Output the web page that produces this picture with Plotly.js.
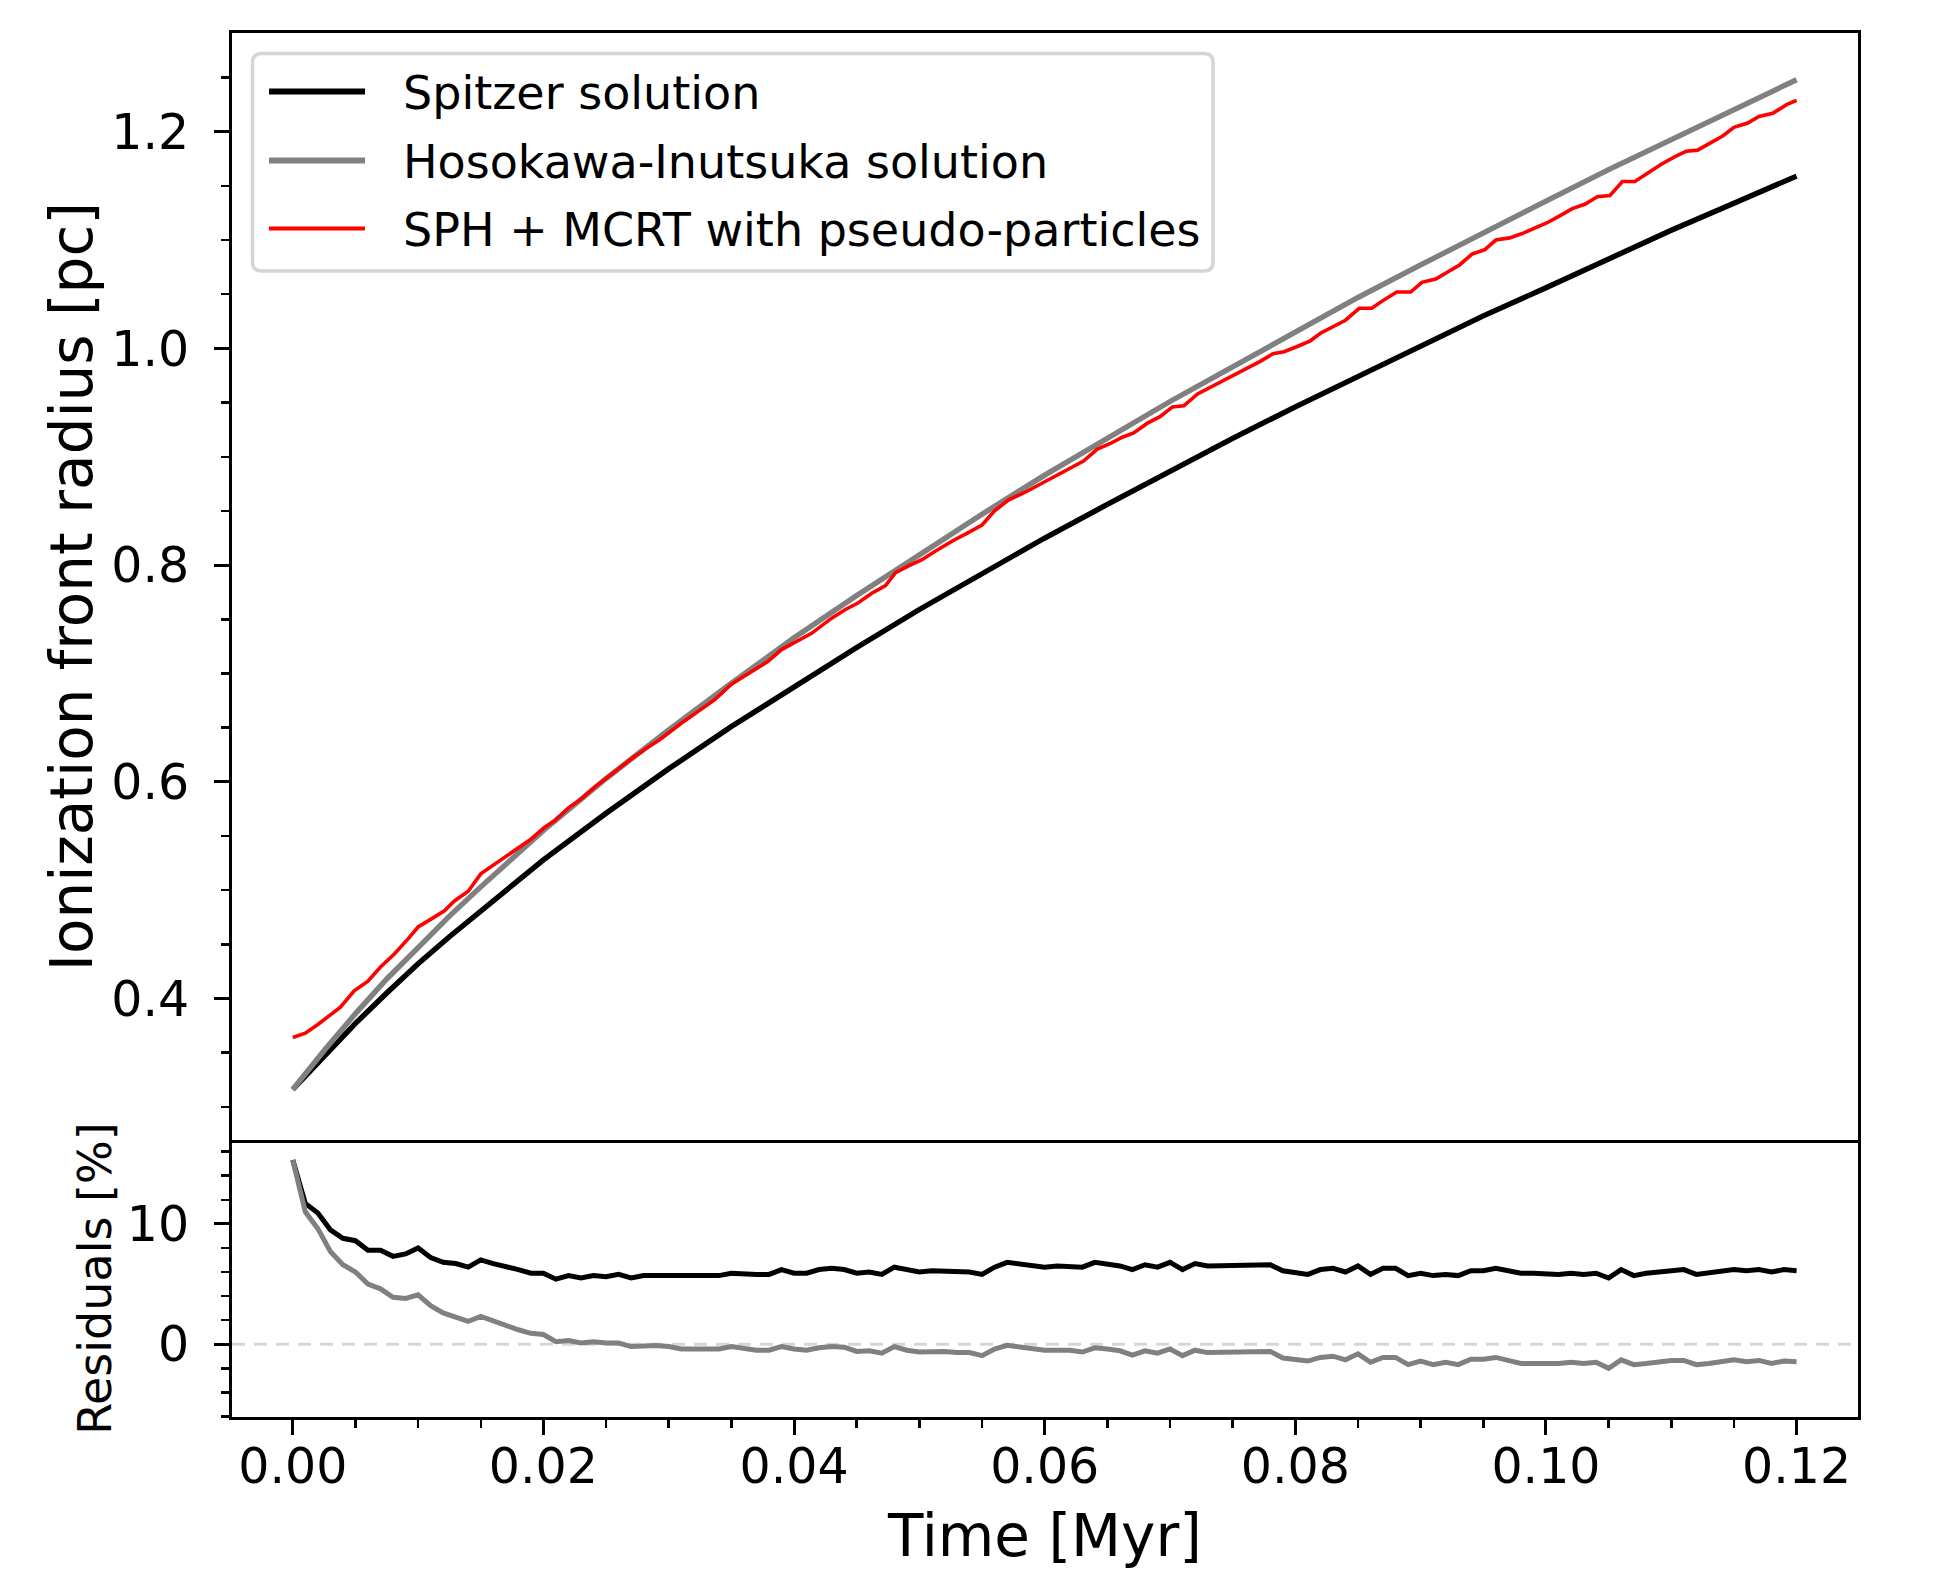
<!DOCTYPE html>
<html>
<head>
<meta charset="utf-8">
<script src="https://cdn.plot.ly/plotly-3.0.1.min.js"></script>
<style>
  html, body { margin: 0; padding: 0; background: #ffffff; }
  #chart { width: 1938px; height: 1583px; }
</style>
</head>
<body>
<div id="chart"></div>
<script>
// ---------- data ----------
// Analytic solutions (time in Myr, radius in pc)
const solT = [0, 0.0025, 0.005, 0.0075, 0.01, 0.0125, 0.015, 0.0175, 0.02, 0.025, 0.03, 0.035, 0.04, 0.045, 0.05, 0.055, 0.06, 0.065, 0.07, 0.075, 0.08, 0.085, 0.09, 0.095, 0.1, 0.105, 0.11, 0.115, 0.12];
const spitzerR = [0.316, 0.347, 0.377, 0.405, 0.432, 0.457, 0.481, 0.505, 0.528, 0.571, 0.612, 0.651, 0.688, 0.724, 0.759, 0.792, 0.825, 0.856, 0.887, 0.917, 0.946, 0.974, 1.002, 1.030, 1.056, 1.083, 1.109, 1.134, 1.159];
const hosokawaR = [0.316, 0.352, 0.386, 0.418, 0.447, 0.476, 0.503, 0.529, 0.555, 0.603, 0.648, 0.691, 0.733, 0.772, 0.810, 0.847, 0.883, 0.917, 0.951, 0.983, 1.015, 1.047, 1.077, 1.107, 1.136, 1.165, 1.193, 1.221, 1.248];

// SPH + MCRT simulation
const simT = [0, 0.0010, 0.0020, 0.0030, 0.0038, 0.0049, 0.0060, 0.0070, 0.0081, 0.0092, 0.0100, 0.0110, 0.0121, 0.0129, 0.0140, 0.0150, 0.0161, 0.0172, 0.0182, 0.0190, 0.0201, 0.0209, 0.0220, 0.0230, 0.0241, 0.0252, 0.0260, 0.0270, 0.0281, 0.0293,
  0.0310, 0.0323, 0.0337, 0.0350, 0.0363, 0.0379, 0.0390, 0.0403, 0.0414, 0.0430, 0.0441, 0.0451, 0.0462, 0.0473, 0.0481, 0.0491, 0.0502, 0.0513, 0.0526, 0.0539, 0.0550, 0.0560, 0.0571, 0.0584,
  0.0604, 0.0618, 0.0631, 0.0642, 0.0652, 0.0662, 0.0671, 0.0682, 0.0692, 0.0702, 0.0711, 0.0722, 0.0732, 0.0743, 0.0754, 0.0764, 0.0772, 0.0782, 0.0791, 0.0802, 0.0812, 0.0820, 0.0831, 0.0840, 0.0851, 0.0861, 0.0871, 0.0881, 0.0892, 0.0901, 0.0912,
  0.0931, 0.0941, 0.0951, 0.0960, 0.0971, 0.0981, 0.0992, 0.1001, 0.1012, 0.1021, 0.1031, 0.1041, 0.1051, 0.1061, 0.1071, 0.1081, 0.1092, 0.1103, 0.1112, 0.1121, 0.1132, 0.1141, 0.1150, 0.1161, 0.1170, 0.1181, 0.1192, 0.1200];
const simR = [0.364, 0.368, 0.376, 0.385, 0.392, 0.407, 0.416, 0.429, 0.441, 0.455, 0.466, 0.473, 0.481, 0.490, 0.499, 0.515, 0.524, 0.533, 0.541, 0.547, 0.558, 0.564, 0.576, 0.584, 0.595, 0.605, 0.612, 0.621, 0.630, 0.639,
  0.654, 0.665, 0.676, 0.690, 0.699, 0.711, 0.722, 0.730, 0.737, 0.751, 0.759, 0.765, 0.774, 0.781, 0.793, 0.799, 0.805, 0.813, 0.822, 0.830, 0.837, 0.850, 0.860, 0.867,
  0.879, 0.888, 0.896, 0.907, 0.912, 0.918, 0.922, 0.931, 0.937, 0.946, 0.947, 0.958, 0.964, 0.970, 0.977, 0.983, 0.988, 0.995, 0.997, 1.002, 1.007, 1.014, 1.021, 1.026, 1.037, 1.037, 1.045, 1.052, 1.052, 1.061, 1.064,
  1.077, 1.087, 1.091, 1.100, 1.102, 1.106, 1.112, 1.116, 1.123, 1.129, 1.133, 1.140, 1.141, 1.154, 1.154, 1.162, 1.170, 1.177, 1.182, 1.183, 1.190, 1.196, 1.204, 1.208, 1.214, 1.217, 1.225, 1.229];

// Residuals [%] at each simulation output time
const resT = [0.000, 0.001, 0.002, 0.003, 0.004, 0.005, 0.006, 0.007, 0.008, 0.009,
  0.010, 0.011, 0.012, 0.013, 0.014, 0.015, 0.016, 0.017, 0.018, 0.019,
  0.020, 0.021, 0.022, 0.023, 0.024, 0.025, 0.026, 0.027, 0.028, 0.029,
  0.030, 0.031, 0.032, 0.033, 0.034, 0.035, 0.036, 0.037, 0.038, 0.039,
  0.040, 0.041, 0.042, 0.043, 0.044, 0.045, 0.046, 0.047, 0.048, 0.049,
  0.050, 0.051, 0.052, 0.053, 0.054, 0.055, 0.056, 0.057, 0.058, 0.059,
  0.060, 0.061, 0.062, 0.063, 0.064, 0.065, 0.066, 0.067, 0.068, 0.069,
  0.070, 0.071, 0.072, 0.073, 0.074, 0.075, 0.076, 0.077, 0.078, 0.079,
  0.080, 0.081, 0.082, 0.083, 0.084, 0.085, 0.086, 0.087, 0.088, 0.089,
  0.090, 0.091, 0.092, 0.093, 0.094, 0.095, 0.096, 0.097, 0.098, 0.099,
  0.100, 0.101, 0.102, 0.103, 0.104, 0.105, 0.106, 0.107, 0.108, 0.109,
  0.110, 0.111, 0.112, 0.113, 0.114, 0.115, 0.116, 0.117, 0.118, 0.119, 0.120];
const resSpitzer = [15.3, 11.7, 10.9, 9.5, 8.8, 8.6, 7.8, 7.8, 7.3, 7.5,
  8.0, 7.2, 6.8, 6.7, 6.4, 7.0, 6.7, 6.5, 6.2, 5.9,
  5.9, 5.4, 5.7, 5.5, 5.7, 5.6, 5.8, 5.5, 5.7, 5.7,
  5.7, 5.6, 5.6, 5.7, 5.7, 5.9, 5.8, 5.8, 5.8, 6.2,
  5.9, 5.9, 6.2, 6.3, 6.2, 5.9, 6.0, 5.8, 6.4, 6.2,
  6.0, 6.1, 6.1, 6.0, 6.0, 5.8, 6.4, 6.8, 6.7, 6.6,
  6.4, 6.5, 6.4, 6.4, 6.8, 6.7, 6.5, 6.2, 6.6, 6.4,
  6.8, 6.2, 6.7, 6.5, 6.5, 6.5, 6.5, 6.6, 6.6, 6.1,
  6.0, 5.8, 6.2, 6.3, 6.0, 6.5, 5.8, 6.3, 6.3, 5.7,
  5.9, 5.7, 5.8, 5.7, 6.1, 6.1, 6.3, 6.1, 5.9, 5.9,
  5.8, 5.8, 5.9, 5.8, 5.9, 5.5, 6.2, 5.7, 5.9, 6.0,
  6.1, 6.2, 5.8, 5.9, 6.0, 6.2, 6.1, 6.2, 6.0, 6.2, 6.1];
const resHosokawa = [15.3, 11.0, 9.6, 7.7, 6.6, 6.0, 5.0, 4.6, 3.9, 3.8,
  4.1, 3.2, 2.6, 2.3, 1.9, 2.3, 1.9, 1.6, 1.2, 0.9,
  0.8, 0.2, 0.3, 0.1, 0.2, 0.1, 0.1, -0.2, -0.1, -0.1,
  -0.2, -0.4, -0.4, -0.4, -0.4, -0.2, -0.4, -0.5, -0.5, -0.2,
  -0.4, -0.5, -0.3, -0.2, -0.25, -0.6, -0.55, -0.75, -0.2, -0.5,
  -0.65, -0.6, -0.6, -0.7, -0.7, -0.95, -0.4, -0.1, -0.25, -0.35,
  -0.5, -0.5, -0.5, -0.65, -0.3, -0.4, -0.55, -0.9, -0.55, -0.75,
  -0.4, -0.95, -0.5, -0.7, -0.7, -0.65, -0.65, -0.65, -0.6, -1.15,
  -1.25, -1.4, -1.1, -1.0, -1.3, -0.8, -1.5, -1.1, -1.1, -1.7,
  -1.4, -1.7, -1.5, -1.7, -1.25, -1.25, -1.1, -1.4, -1.6, -1.6,
  -1.65, -1.6, -1.5, -1.6, -1.5, -2.0, -1.3, -1.7, -1.6, -1.45,
  -1.35, -1.35, -1.7, -1.6, -1.5, -1.3, -1.45, -1.35, -1.6, -1.4, -1.45];

const seriesNames = ['Spitzer solution', 'Hosokawa-Inutsuka solution', 'SPH + MCRT with pseudo-particles'];
const seriesColors = ['#000000', '#808080', '#ff0000'];
const seriesWidths = [5.4, 5.4, 3.6];

// ---------- figure ----------
const FONT = 'DejaVu Sans, Verdana, sans-serif';
const W = 1938, H = 1583;
const M = {l: 232, r: 80, t: 33, b: 166};
const PW = W - M.l - M.r, PH = H - M.t - M.b;
// pixel -> paper helpers (for the legend box only)
const px = v => (v - M.l) / PW;
const py = v => 1 - (v - M.t) / PH;

const traces = [
  {x: solT, y: spitzerR, xaxis: 'x2', yaxis: 'y', type: 'scatter', mode: 'lines',
   name: seriesNames[0], line: {color: seriesColors[0], width: seriesWidths[0]}},
  {x: solT, y: hosokawaR, xaxis: 'x2', yaxis: 'y', type: 'scatter', mode: 'lines',
   name: seriesNames[1], line: {color: seriesColors[1], width: seriesWidths[1]}},
  {x: simT, y: simR, xaxis: 'x2', yaxis: 'y', type: 'scatter', mode: 'lines',
   name: seriesNames[2], line: {color: seriesColors[2], width: seriesWidths[2]}},
  {x: resT, y: resSpitzer, xaxis: 'x', yaxis: 'y2', type: 'scatter', mode: 'lines',
   name: 'Spitzer residual', line: {color: seriesColors[0], width: 5.0}},
  {x: resT, y: resHosokawa, xaxis: 'x', yaxis: 'y2', type: 'scatter', mode: 'lines',
   name: 'Hosokawa-Inutsuka residual', line: {color: seriesColors[1], width: 5.0}}
];

const axisCommon = {
  showline: true, linecolor: '#000000', linewidth: 3,
  showgrid: false, zeroline: false,
  ticks: 'outside', ticklen: 15, tickwidth: 3, tickcolor: '#000000',
  tickfont: {family: FONT, size: 49, color: '#000000'}
};

// Legend (drawn as a framed box in the upper-left of the top panel)
const box = {x0: 252.5, x1: 1213, y0: 53.5, y1: 271};
const rad = 9;
const X0 = px(box.x0), X1 = px(box.x1), Y0 = py(box.y1), Y1 = py(box.y0);
const rx = rad / PW, ry = rad / PH;
const legendPath = `M ${X0 + rx},${Y0} L ${X1 - rx},${Y0} Q ${X1},${Y0} ${X1},${Y0 + ry} ` +
  `L ${X1},${Y1 - ry} Q ${X1},${Y1} ${X1 - rx},${Y1} L ${X0 + rx},${Y1} Q ${X0},${Y1} ${X0},${Y1 - ry} ` +
  `L ${X0},${Y0 + ry} Q ${X0},${Y0} ${X0 + rx},${Y0} Z`;
const rowY = [91.5, 160.5, 228.5];
const legendShapes = [{type: 'path', xref: 'paper', yref: 'paper', path: legendPath,
  fillcolor: 'rgba(255,255,255,0.8)', line: {color: '#d5d5d5', width: 3.5}, layer: 'above'}];
const legendAnnotations = [];
seriesNames.forEach((name, i) => {
  legendShapes.push({type: 'line', xref: 'paper', yref: 'paper',
    x0: px(269), x1: px(365), y0: py(rowY[i]), y1: py(rowY[i]),
    line: {color: seriesColors[i], width: i === 2 ? 4.2 : 6.2}, layer: 'above'});
  legendAnnotations.push({xref: 'paper', yref: 'paper', x: px(401), y: py(rowY[i] + 1),
    xanchor: 'left', yanchor: 'middle', showarrow: false, text: name,
    font: {family: FONT, size: 46, color: '#000000'}});
});

const layout = {
  width: W, height: H,
  paper_bgcolor: '#ffffff', plot_bgcolor: '#ffffff',
  margin: M,
  font: {family: FONT, color: '#000000'},
  showlegend: false,
  xaxis: Object.assign({}, axisCommon, {
    domain: [0, 1], anchor: 'y2', mirror: false,
    range: [-0.00485, 0.1249], tick0: 0, dtick: 0.02, tickformat: '.2f',
    ticklabelstandoff: -11,
    minor: {ticks: 'outside', ticklen: 8, tickwidth: 2.5, tickcolor: '#000000', dtick: 0.005, tick0: 0, showgrid: false},
    title: {text: 'Time [Myr]', font: {family: FONT, size: 58, color: '#000000'}, standoff: 22}
  }),
  xaxis2: {
    domain: [0, 1], anchor: 'y', matches: 'x',
    showline: true, linecolor: '#000000', linewidth: 3, mirror: true,
    showgrid: false, zeroline: false, showticklabels: false, ticks: ''
  },
  yaxis: Object.assign({}, axisCommon, {
    domain: [0.2, 1], anchor: 'x2', mirror: true,
    range: [0.2692, 1.2911], tick0: 0, dtick: 0.2, tickformat: '.1f',
    ticklabelstandoff: 15,
    minor: {ticks: 'outside', ticklen: 8, tickwidth: 2.5, tickcolor: '#000000', dtick: 0.05, tick0: 0, showgrid: false},
    title: {text: 'Ionization front radius [pc]', font: {family: FONT, size: 58, color: '#000000'}, standoff: 0}
  }),
  yaxis2: Object.assign({}, axisCommon, {
    domain: [0, 0.2], anchor: 'x', mirror: true,
    range: [-6.05, 16.95], tick0: 0, dtick: 10, tickformat: 'd',
    ticklabelstandoff: 15,
    minor: {ticks: 'outside', ticklen: 8, tickwidth: 2.5, tickcolor: '#000000', dtick: 2, tick0: 0, showgrid: false},
    title: {text: 'Residuals [%]', font: {family: FONT, size: 46, color: '#000000'}, standoff: 1}
  }),
  shapes: [
    {type: 'line', xref: 'x domain', yref: 'y2', x0: 0, x1: 1, y0: 0, y1: 0,
     line: {color: '#d6d6d6', width: 3, dash: '13px,9px'}, layer: 'below'}
  ].concat(legendShapes),
  annotations: legendAnnotations
};

Plotly.newPlot('chart', traces, layout, {staticPlot: true, displayModeBar: false});
</script>
</body>
</html>
